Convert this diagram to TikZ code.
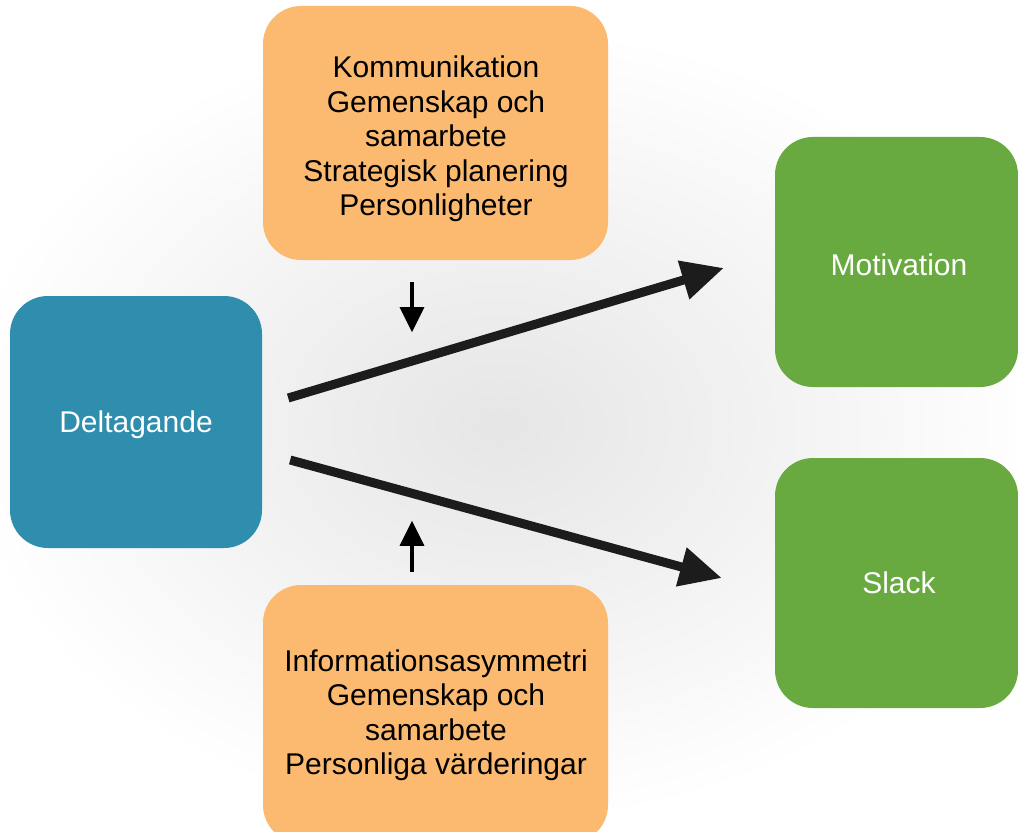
\documentclass[tikz,border=0pt]{standalone}
\usepackage{fontspec}
\setmainfont{Liberation Sans}
\usetikzlibrary{arrows.meta,calc}
\definecolor{boxblue}{RGB}{47,141,174}
\definecolor{boxorange}{RGB}{251,186,112}
\definecolor{boxgreen}{RGB}{104,170,64}
\definecolor{arrowdark}{RGB}{28,28,28}
\tikzset{
  box/.style={rounded corners=38pt, inner sep=0pt, align=center,
    font=\fontsize{30}{34.5}\selectfont},
  bluebox/.style={box, fill=boxblue, text=white},
  orangebox/.style={box, fill=boxorange, text=black},
  greenbox/.style={box, fill=boxgreen, text=white},
  boxtext/.style={inner sep=0pt, align=center, font=\fontsize{30}{34.5}\selectfont},
  bigarrow/.style={draw=arrowdark, line width=9pt,
    -{Triangle[length=42pt,width=38pt]}},
  smallarrow/.style={draw=black, line width=3.5pt,
    -{Triangle[length=25pt,width=24pt]}}
}
\begin{document}
\begin{tikzpicture}[x=1pt,y=-1pt]
\useasboundingbox (0,0) rectangle (1018,832);
\clip (0,0) rectangle (1018,832);
\fill[white] (0,0) rectangle (1018,832);
% soft shadow around the arrows
\shade[inner color=gray!20, outer color=white] (500,425) ellipse [x radius=540, y radius=400];
% boxes
\node[bluebox, minimum width=252pt, minimum height=252pt] (delta) at (136,422) {};
\node[boxtext, text=white] (deltatext) at (136,425) {Deltagande};
\node[orangebox, minimum width=345pt, minimum height=254pt] (top) at (435.5,133) {};
\node[boxtext] (toptext) at (436,139)
  {Kommunikation\\Gemenskap och\\samarbete\\Strategisk planering\\Personligheter};
\node[orangebox, minimum width=345pt, minimum height=258pt] (bot) at (435.5,714) {};
\node[boxtext] (bottext) at (436,715)
  {Informationsasymmetri\\Gemenskap och\\samarbete\\Personliga värderingar};
\node[greenbox, minimum width=243pt, minimum height=250pt] (mot) at (896.5,262) {};
\node[boxtext, text=white] (mottext) at (899,265) {Motivation};
\node[greenbox, minimum width=243pt, minimum height=250pt] (slack) at (896.5,583) {};
\node[boxtext, text=white] (slacktext) at (899,583) {Slack};
% main arrows
\draw[bigarrow] ($(delta.east)+(26,-24)$) -- ($(mot.west)+(-51,6)$);
\draw[bigarrow] ($(delta.east)+(28,38)$) -- ($(slack.west)+(-53,-5)$);
% small arrows
\draw[smallarrow] ($(top.south)+(-23.5,22)$) -- ($(top.south)+(-23.5,72)$);
\draw[smallarrow] ($(bot.north)+(-23.5,-13)$) -- ($(bot.north)+(-23.5,-64)$);
\end{tikzpicture}
\end{document}
